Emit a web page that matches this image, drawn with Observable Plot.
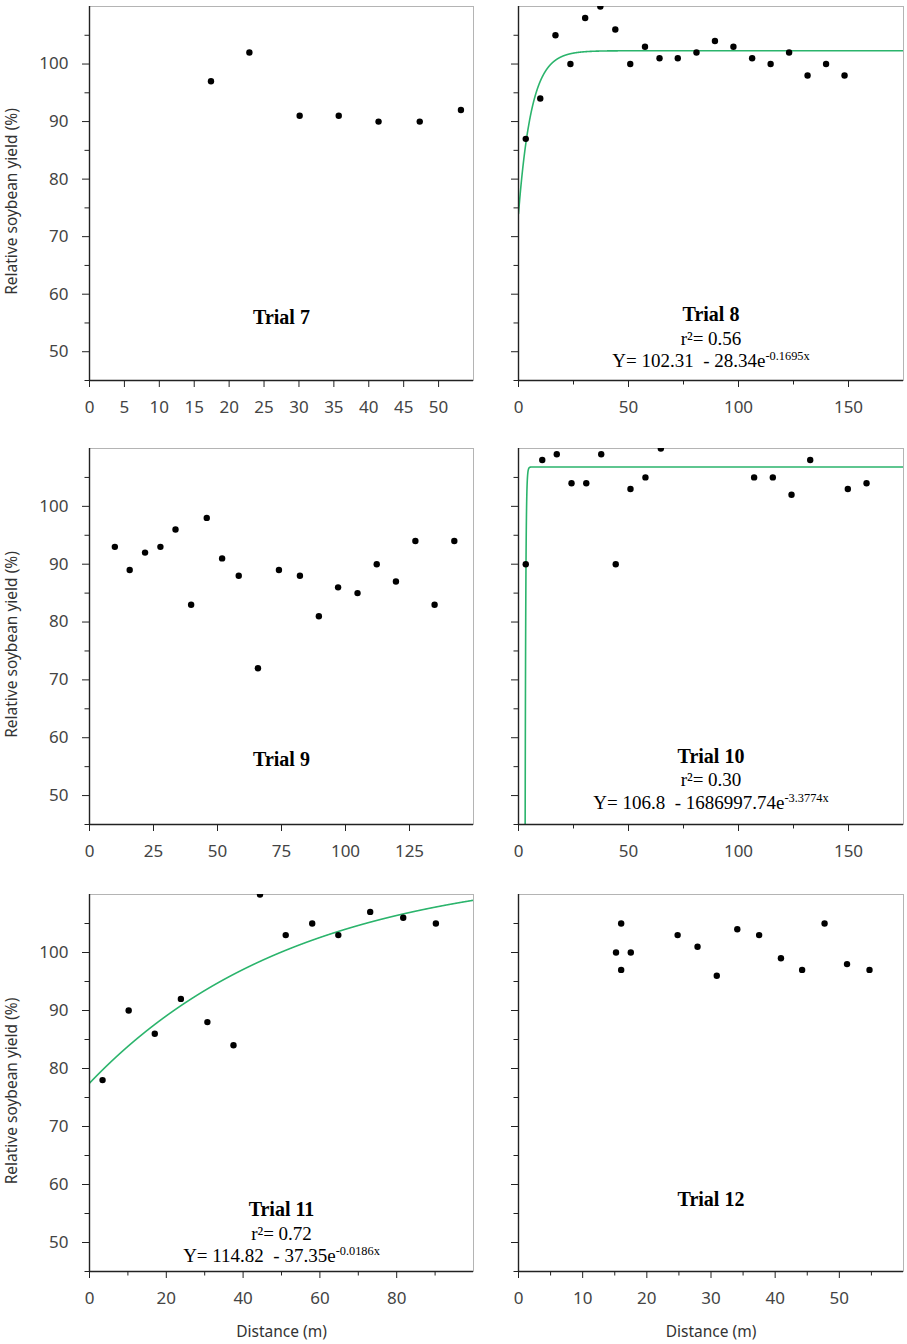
<!DOCTYPE html>
<html>
<head>
<meta charset="utf-8">
<script src="https://cdn.jsdelivr.net/npm/d3@7"></script>
<script src="https://cdn.jsdelivr.net/npm/@observablehq/plot@0.6"></script>
<style>
  html, body { margin: 0; padding: 0; background: #fff; }
  #chart { position: relative; width: 907px; height: 1344px; background: #fff; }
  .panel { position: absolute; }
</style>
</head>
<body>
<div id="chart"></div>
<script>
// ---- Data ----
const trials = ["Trial 7", "Trial 8", "Trial 9", "Trial 10", "Trial 11", "Trial 12"];

const t7x = [17.4, 22.9, 30.1, 35.7, 41.4, 47.3, 53.2];
const t7y = [97, 102, 91, 91, 90, 90, 92];

const t8x = [3.3, 9.9, 16.8, 23.6, 30.3, 37.2, 44.0, 50.8, 57.5, 64.1, 72.4, 80.9, 89.3, 97.7, 106.2, 114.6, 123.0, 131.4, 139.8, 148.2];
const t8y = [87, 94, 105, 100, 108, 110, 106, 100, 103, 101, 101, 102, 104, 103, 101, 100, 102, 98, 100, 98];

const t9x = [9.9, 15.7, 21.7, 27.7, 33.6, 39.7, 45.8, 51.8, 58.3, 65.8, 74.0, 82.2, 89.6, 97.1, 104.7, 112.2, 119.7, 127.3, 134.8, 142.5];
const t9y = [93, 89, 92, 93, 96, 83, 98, 91, 88, 72, 89, 88, 81, 86, 85, 90, 87, 94, 83, 94];

const t10x = [3.3, 10.8, 17.4, 24.1, 30.8, 37.6, 44.2, 50.9, 57.7, 64.7, 107.1, 115.6, 124.1, 132.6, 149.7, 158.2];
const t10y = [90, 108, 109, 104, 104, 109, 90, 103, 105, 110, 105, 105, 102, 108, 103, 104];

const t11x = [3.4, 10.2, 17.0, 23.8, 30.7, 37.5, 44.4, 51.1, 58.0, 64.8, 73.1, 81.7, 90.2];
const t11y = [78, 90, 86, 92, 88, 84, 110, 103, 105, 103, 107, 106, 105];

const t12x = [15.2, 16.0, 16.0, 17.5, 24.8, 27.9, 30.9, 34.1, 37.5, 40.9, 44.2, 47.7, 51.2, 54.7];
const t12y = [100, 105, 97, 100, 103, 101, 96, 104, 103, 99, 97, 105, 98, 97];

// fitted models shown on the chart: Y = a - b * e^(-k x)
const fitA = [null, 102.31, null, 106.8, 114.82, null];
const fitB = [null, 28.34, null, 1686997.74, 37.35, null];
const fitK = [null, 0.1695, null, 3.3774, 0.0186, null];
const fitR2 = [null, "0.56", null, "0.30", "0.72", null];
const fitEq = [null, "Y= 102.31  - 28.34e^-0.1695x", null, "Y= 106.8  - 1686997.74e^-3.3774x", "Y= 114.82  - 37.35e^-0.0186x", null];

// axes
const yDomain = [45, 110];
const yMajor = [50, 60, 70, 80, 90, 100];
const yMinor = [45, 55, 65, 75, 85, 95, 105];
const xDomains = [[0, 55], [0, 175], [0, 150], [0, 175], [0, 100], [0, 60]];
const xMajorTicks = [
  [0, 5, 10, 15, 20, 25, 30, 35, 40, 45, 50],
  [0, 50, 100, 150],
  [0, 25, 50, 75, 100, 125],
  [0, 50, 100, 150],
  [0, 20, 40, 60, 80],
  [0, 10, 20, 30, 40, 50]
];
const xMinorTicks = [
  [],
  [25, 75, 125],
  [],
  [25, 75, 125],
  [10, 30, 50, 70, 90],
  [5, 15, 25, 35, 45, 55]
];
const yLabel = "Relative soybean yield (%)";
const xLabel = "Distance (m)";

const xs = [t7x, t8x, t9x, t10x, t11x, t12x];
const ys = [t7y, t8y, t9y, t10y, t11y, t12y];

// ---- Layout ----
const cols = [
  {left: 0, width: 480, mL: 89, mR: 7},
  {left: 480, width: 427, mL: 38, mR: 4}
];
const rows = [
  {top: 0, height: 430, mT: 6, mB: 50},
  {top: 430, height: 450, mT: 18, mB: 56},
  {top: 880, height: 464, mT: 14, mB: 73}
];
// vertical offsets (from frame bottom) of the in-panel captions
const captionDy = [
  [-63],
  [-66, -42, -20],
  [-65],
  [-68, -45, -22],
  [-62, -38, -16],
  [-72]
];

const green = "#2bb46c";
const serif = "'Liberation Serif', 'Times New Roman', serif";
const chart = document.getElementById("chart");

trials.forEach((name, i) => {
  const col = cols[i % 2], row = rows[Math.floor(i / 2)];
  const isLeft = i % 2 === 0, isBottom = i >= 4;
  const [x0, x1] = xDomains[i];
  const marks = [];

  marks.push(Plot.frame({stroke: "#b4b4b4", strokeWidth: 1}));

  if (fitA[i] !== null) {
    const step = 0.02;
    const cx = d3.range(x0, x1 + step / 2, step);
    const pts = cx.map(x => ({x, y: fitA[i] - fitB[i] * Math.exp(-fitK[i] * x)})).filter(p => p.y > 20);
    marks.push(Plot.line(pts, {x: "x", y: "y", stroke: green, strokeWidth: 1.6, clip: true}));
  }

  marks.push(Plot.dot(xs[i], {x: xs[i], y: ys[i], r: 3.2, fill: "#000", stroke: null, clip: true}));

  // axis lines (left and bottom)
  marks.push(Plot.ruleX([x0], {stroke: "#222", strokeWidth: 1.4}));
  marks.push(Plot.ruleY([yDomain[0]], {stroke: "#222", strokeWidth: 1.4}));

  // y axis
  marks.push(Plot.axisY({ticks: yMajor, tickSize: 7, tickPadding: 14, label: null, text: isLeft ? undefined : null, stroke: "#222", fill: "#444", fontSize: 17}));
  marks.push(Plot.axisY({ticks: yMinor, tickSize: 4.5, label: null, text: null, stroke: "#222"}));
  // x axis
  marks.push(Plot.axisX({ticks: xMajorTicks[i], tickSize: 7, tickPadding: 13, label: null, stroke: "#222", fill: "#444", fontSize: 17}));
  if (xMinorTicks[i].length) marks.push(Plot.axisX({ticks: xMinorTicks[i], tickSize: 4.5, label: null, text: null, stroke: "#222"}));

  // captions
  const dys = captionDy[i];
  marks.push(Plot.text([name], {frameAnchor: "bottom", lineAnchor: "middle", textAnchor: "middle", dy: dys[0], text: d => d, fontFamily: serif, fontWeight: "bold", fontSize: 20, fill: "#000"}));
  if (fitR2[i] !== null) {
    marks.push(Plot.text(["r²= " + fitR2[i]], {frameAnchor: "bottom", lineAnchor: "middle", textAnchor: "middle", dy: dys[1], text: d => d, fontFamily: serif, fontSize: 19, fill: "#000"}));
    marks.push(Plot.text([fitEq[i]], {frameAnchor: "bottom", lineAnchor: "middle", textAnchor: "middle", dy: dys[2], text: d => d, fontFamily: serif, fontSize: 19, fill: "#000"}));
  }

  if (isLeft) {
    marks.push(Plot.text([yLabel], {frameAnchor: "left", lineAnchor: "middle", textAnchor: "middle", dx: -(col.mL - 12), dy: 8, rotate: -90, text: d => d, fontSize: 15.5, fill: "#333"}));
  }
  if (isBottom) {
    marks.push(Plot.text([xLabel], {frameAnchor: "bottom", lineAnchor: "middle", textAnchor: "middle", dy: 61, text: d => d, fontSize: 15.5, fill: "#333"}));
  }

  const svg = Plot.plot({
    width: col.width,
    height: row.height,
    marginLeft: col.mL,
    marginRight: col.mR,
    marginTop: row.mT,
    marginBottom: row.mB,
    x: {domain: xDomains[i]},
    y: {domain: yDomain},
    style: {fontFamily: "'Noto Sans', 'Open Sans', sans-serif", fontSize: "16px", background: "white", color: "#222"},
    marks
  });

  // make sure the tick labels use the reference's size
  d3.select(svg).selectAll('g[aria-label$="tick label"]').attr("font-size", 17);

  // superscript for the exponents in the equations
  d3.select(svg).selectAll("text").each(function () {
    const t = this.textContent;
    if (t.includes("^") && this.childElementCount === 0) {
      const [base, exp] = t.split("^");
      this.textContent = base;
      this.setAttribute("xml:space", "preserve");
      this.style.whiteSpace = "pre";
      const ts = document.createElementNS("http://www.w3.org/2000/svg", "tspan");
      ts.setAttribute("dy", "-0.55em");
      ts.setAttribute("font-size", "0.65em");
      ts.textContent = exp;
      this.appendChild(ts);
    }
  });

  const div = document.createElement("div");
  div.className = "panel";
  div.style.left = col.left + "px";
  div.style.top = row.top + "px";
  div.appendChild(svg);
  chart.appendChild(div);
});
</script>
</body>
</html>
